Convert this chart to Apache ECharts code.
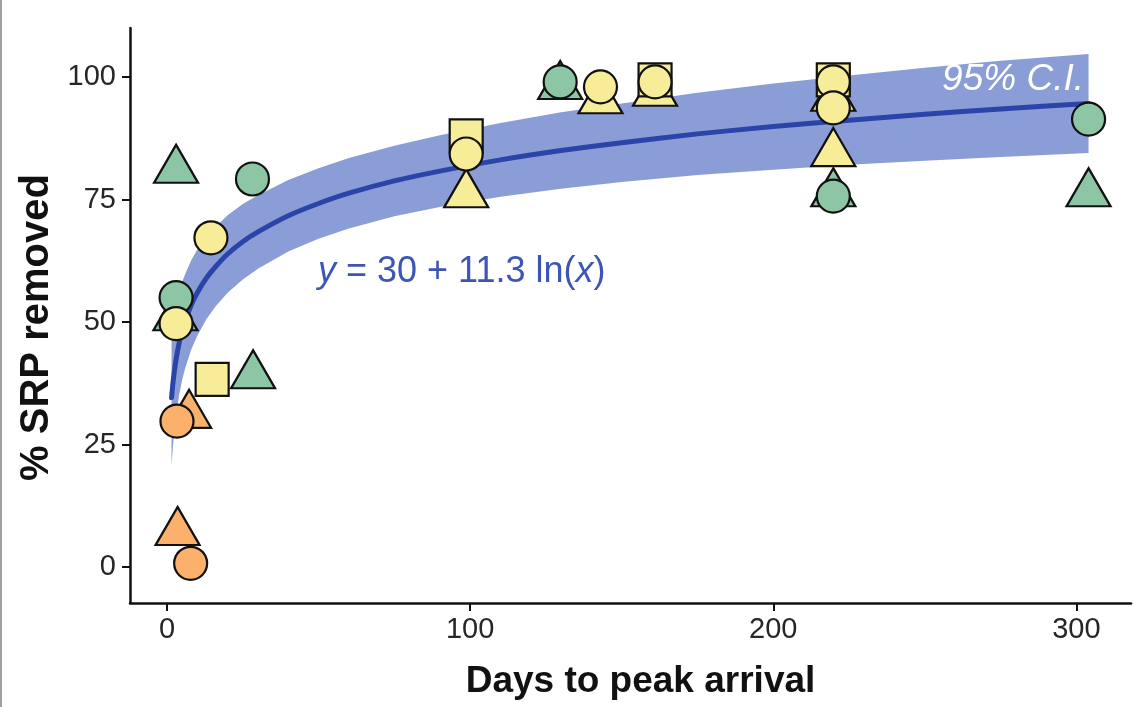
<!DOCTYPE html>
<html><head><meta charset="utf-8">
<script src="https://cdn.jsdelivr.net/npm/echarts@6/dist/echarts.min.js"></script>
<style>html,body{margin:0;padding:0;background:#fff}#c{width:1134px;height:707px}</style>
</head><body><div id="c"></div>
<script>
// ---- data ----
const xTicks = [0, 100, 200, 300];
const yTicks = [0, 25, 50, 75, 100];

// fitted curve and 95% confidence band
const fitX    = [1.5, 2, 3, 4, 5, 6, 8, 10, 13, 16, 20, 25, 30, 40, 50, 60, 75, 90, 110, 130, 150, 175, 200, 225, 250, 275, 304];
const fitY    = [34.6, 37.8, 42.4, 45.7, 48.2, 50.2, 53.5, 56.0, 59.0, 61.3, 63.9, 66.4, 68.4, 71.7, 74.2, 76.3, 78.8, 80.8, 83.1, 85.0, 86.6, 88.4, 89.9, 91.2, 92.4, 93.5, 94.6];
const ciLower = [20.6, 25.0, 31.0, 35.1, 38.2, 40.6, 44.4, 47.2, 50.6, 53.2, 56.0, 58.7, 60.9, 64.4, 67.0, 69.1, 71.6, 73.5, 75.6, 77.2, 78.6, 80.0, 81.1, 82.1, 82.9, 83.7, 84.5];
const ciUpper = [48.6, 50.6, 53.8, 56.3, 58.2, 59.8, 62.6, 64.8, 67.4, 69.4, 71.8, 74.1, 75.9, 79.0, 81.4, 83.5, 86.0, 88.1, 90.6, 92.8, 94.6, 96.8, 98.7, 100.3, 101.9, 103.3, 104.7];

// observations [days, % removed]
const greenTriangles  = [[3, 82.3], [2.8, 52.2], [28.4, 40.4], [129.7, 99.4], [219.8, 77.5], [304, 77.5]];
const greenCircles    = [[3, 55.0], [28.2, 79.2], [129.7, 99.0], [219.8, 75.7], [304, 91.4]];
const yellowTriangles = [[98.7, 77.3], [143, 96.5], [161, 98.0], [219.8, 97.0], [219.8, 85.7]];
const yellowSquares   = [[14.9, 38.3], [98.7, 88.0], [161, 99.4], [219.8, 99.4]];
const yellowCircles   = [[3, 49.7], [14.5, 67.2], [98.7, 84.3], [143, 98.0], [161, 99.0], [219.8, 99.0], [219.8, 93.7]];
const orangeTriangles = [[7.3, 32.3], [3.5, 8.4]];
const orangeCircles   = [[3.3, 29.8], [7.8, 0.8]];

const equationAt = [49.8, 60.2];
const ciLabelAt  = [302.5, 99.4];

// ---- styles ----
const FONT = '"Liberation Sans", Arial, Helvetica, sans-serif';
const GREEN = '#8dc6a4', YELLOW = '#f7ec98', ORANGE = '#fbb06b';
const BAND = '#8b9dd6', LINE = '#2a44a8', EQ = '#3d55b5';

function scat(name, data, symbol, color, size, z) {
  return {
    name, type: 'scatter', data, symbol, symbolSize: size, z,
    itemStyle: { color, borderColor: '#111', borderWidth: 2.2, opacity: 1 },
    emphasis: { disabled: true }, silent: true
  };
}

const chart = echarts.init(document.getElementById('c'), null, { renderer: 'canvas' });
chart.setOption({
  animation: false,
  backgroundColor: '#fff',
  grid: { left: 130, right: 3, top: 28, bottom: 104, containLabel: false },
  xAxis: {
    type: 'value', min: -12.2, max: 318,
    name: 'Days to peak arrival', nameLocation: 'middle', nameGap: 60,
    nameTextStyle: { fontFamily: FONT, fontSize: 37, fontWeight: 'bold', color: '#111', padding: [0, 0, 0, 20] },
    splitLine: { show: false },
    axisLine: { show: true, onZero: false, lineStyle: { color: '#111', width: 2.5 } },
    axisTick: { show: true, length: 8, customValues: xTicks, lineStyle: { color: '#111', width: 2 } },
    axisLabel: { customValues: xTicks, margin: 12, fontFamily: FONT, fontSize: 29, color: '#262626' }
  },
  yAxis: {
    type: 'value', min: -7.3, max: 110,
    name: '% SRP removed', nameLocation: 'middle', nameGap: 66,
    nameTextStyle: { fontFamily: FONT, fontSize: 40, fontWeight: 'bold', color: '#111', padding: [0, 24, 0, 0] },
    splitLine: { show: false },
    axisLine: { show: true, onZero: false, lineStyle: { color: '#111', width: 2.5 } },
    axisTick: { show: true, length: 8, customValues: yTicks, lineStyle: { color: '#111', width: 2 } },
    axisLabel: { customValues: yTicks, margin: 14, fontFamily: FONT, fontSize: 29, color: '#262626' }
  },
  graphic: [{ type: 'rect', shape: { x: 0, y: 0, width: 2, height: 707 }, style: { fill: '#a0a0a0' }, silent: true }],
  series: [
    {
      name: 'band', type: 'custom', z: 1, silent: true,
      data: fitX.map((x, i) => [x, ciLower[i], ciUpper[i]]),
      encode: { x: 0, y: [1, 2] },
      renderItem: function (params, api) {
        if (params.dataIndex !== 0) return null;
        const p = [];
        for (let i = 0; i < fitX.length; i++) p.push(api.coord([fitX[i], ciUpper[i]]));
        for (let i = fitX.length - 1; i >= 0; i--) p.push(api.coord([fitX[i], ciLower[i]]));
        return { type: 'polygon', shape: { points: p, smooth: 0 }, style: { fill: BAND } };
      }
    },
    {
      name: 'fit', type: 'line', z: 2, silent: true, showSymbol: false, smooth: 0.2,
      data: fitX.map((x, i) => [x, fitY[i]]),
      lineStyle: { color: LINE, width: 5, cap: 'round' }
    },
    scat('greenTriangles', greenTriangles, 'triangle', GREEN, [44, 38], 3),
    scat('yellowTriangles', yellowTriangles, 'triangle', YELLOW, [44, 38], 3),
    scat('orangeTriangles', orangeTriangles, 'triangle', ORANGE, [44, 38], 3),
    scat('yellowSquares', yellowSquares, 'rect', YELLOW, 33, 4),
    scat('greenCircles', greenCircles, 'circle', GREEN, 33, 5),
    scat('yellowCircles', yellowCircles, 'circle', YELLOW, 33, 6),
    scat('orangeCircles', orangeCircles, 'circle', ORANGE, 33, 6),
    {
      name: 'labels', type: 'custom', z: 7, silent: true,
      data: [
        { value: equationAt, name: 'eq' },
        { value: ciLabelAt, name: 'ci' }
      ],
      encode: { x: 0, y: 1 },
      renderItem: function (params, api) {
        const c = api.coord([api.value(0), api.value(1)]);
        if (params.dataIndex === 0) {
          return { type: 'text', x: c[0], y: c[1], style: {
            text: '{i|y}{s| = }30{s| + }11.3 ln({i|x})', fill: EQ, font: '36px ' + FONT,
            align: 'left', verticalAlign: 'middle',
            rich: {
              i: { fontStyle: 'italic', fill: EQ, fontSize: 36, fontFamily: FONT },
              s: { fill: EQ, fontSize: 36, fontFamily: FONT }
            } } };
        }
        return { type: 'text', x: c[0], y: c[1], style: {
          text: '95% C.I.', fill: '#ffffff', font: 'italic 37px ' + FONT,
          align: 'right', verticalAlign: 'middle' } };
      }
    }
  ]
});
</script></body></html>
